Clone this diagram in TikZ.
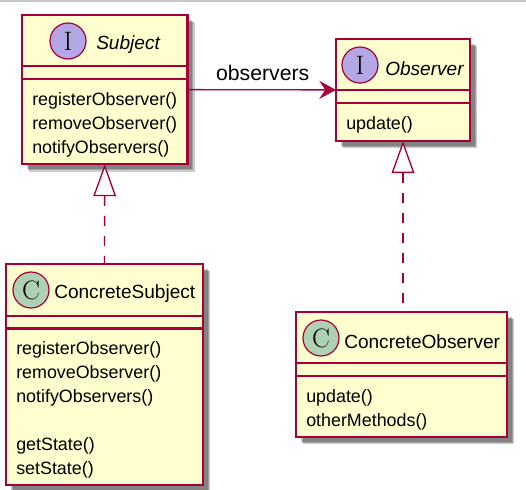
\documentclass[tikz,border=0pt]{standalone}
\usepackage{fontspec}
\setmainfont{Liberation Sans}
\newfontfamily\rmlm{Latin Modern Roman}
\usepackage{tikz}
\usetikzlibrary{arrows.meta,shadows}
\definecolor{umlline}{HTML}{A80036}
\definecolor{umlfill}{HTML}{FEFECE}
\definecolor{ifacefill}{HTML}{B4A7E5}
\definecolor{classfill}{HTML}{ADD1B2}

\begin{document}
\begin{tikzpicture}[
  x=0.75pt, y=-0.75pt,
  softshadow/.style={drop shadow={shadow xshift=#1, shadow yshift=-#1, fill=black, opacity=0.2}},
  classbox/.style={draw=umlline, fill=umlfill, line width=1.8pt, inner sep=0pt, outer sep=0pt,
    softshadow=5.5pt, softshadow=4.5pt, softshadow=3.5pt},
  sepline/.style={draw=umlline, line width=1.7pt},
  badge/.style={circle, draw=umlline, line width=0.9pt, minimum size=27pt, inner sep=0pt,
    font=\fontsize{20}{20}\selectfont\rmlm},
  title/.style={anchor=west, inner sep=0pt, font=\fontsize{14.3}{17}\selectfont},
  methods/.style={anchor=north west, align=left, inner sep=0pt, font=\fontsize{13.4}{18}\selectfont},
  assoc/.style={draw=umlline, line width=1pt, -{Stealth[length=12.5pt, width=13.5pt, inset=4.5pt]}},
  realize/.style={draw=umlline, line width=1pt, dash pattern=on 7.5pt off 7.5pt,
    {Triangle[open, fill=white, length=24pt, width=17pt]}-}
]
\useasboundingbox (0,0) rectangle (526,490);
\coordinate (topleft) at (0,1);
\coordinate (topright) at (526,1);
\draw[black!22, line width=1pt] (topleft) -- (topright);

\node[classbox, minimum width=124pt, minimum height=112pt] (subject) at (104.75,89.5) {};
\node[classbox, minimum width=100.5pt, minimum height=76.5pt] (observer) at (403,90) {};
\node[classbox, minimum width=147.75pt, minimum height=165.75pt] (csubject) at (104.5,374.5) {};
\node[classbox, minimum width=158.25pt, minimum height=93.75pt] (cobserver) at (401.5,374.5) {};

\draw[sepline] (subject.west |- 0,66) -- (subject.east |- 0,66);
\draw[sepline] (subject.west |- 0,79) -- (subject.east |- 0,79);
\draw[sepline] (observer.west |- 0,90) -- (observer.east |- 0,90);
\draw[sepline] (observer.west |- 0,103) -- (observer.east |- 0,103);
\draw[sepline] (csubject.west |- 0,316) -- (csubject.east |- 0,316);
\draw[sepline] (csubject.west |- 0,328.5) -- (csubject.east |- 0,328.5);
\draw[sepline] (cobserver.west |- 0,363) -- (cobserver.east |- 0,363);
\draw[sepline] (cobserver.west |- 0,376) -- (cobserver.east |- 0,376);

\node[badge, fill=ifacefill] (subjectbadge) at (68,41) {I};
\node[badge, fill=ifacefill] (observerbadge) at (360,65) {I};
\node[badge, fill=classfill] (csubjectbadge) at (31,290) {C};
\node[badge, fill=classfill] (cobserverbadge) at (321,338) {C};

\node[title] (subjecttitle) at (96,45) {\itshape Subject};
\node[title] (observertitle) at (385,69) {\itshape Observer};
\node[title] (csubjecttitle) at (54,294) {ConcreteSubject};
\node[title] (cobservertitle) at (344,342) {ConcreteObserver};

\node[methods] (subjectmethods) at (32,92.5) {registerObserver()\\removeObserver()\\notifyObservers()};
\node[methods] (observermethods) at (346,116.5) {update()};
\node[methods] (csubjectmethods) at (16,341.5) {registerObserver()\\removeObserver()\\notifyObservers()\\[18pt]getState()\\setState()};
\node[methods] (cobservermethods) at (306,389.5) {update()\\otherMethods()};

\draw[assoc] (subject) -- node[above=6.5pt, xshift=0.75pt, inner sep=0pt, font=\fontsize{15.9}{18}\selectfont] (assoclabel) {observers} (observer);
\draw[realize] (subject.south) -- (csubject.north);
\draw[realize] (observer.south) -- (observer.south |- cobserver.north);
\end{tikzpicture}
\end{document}
